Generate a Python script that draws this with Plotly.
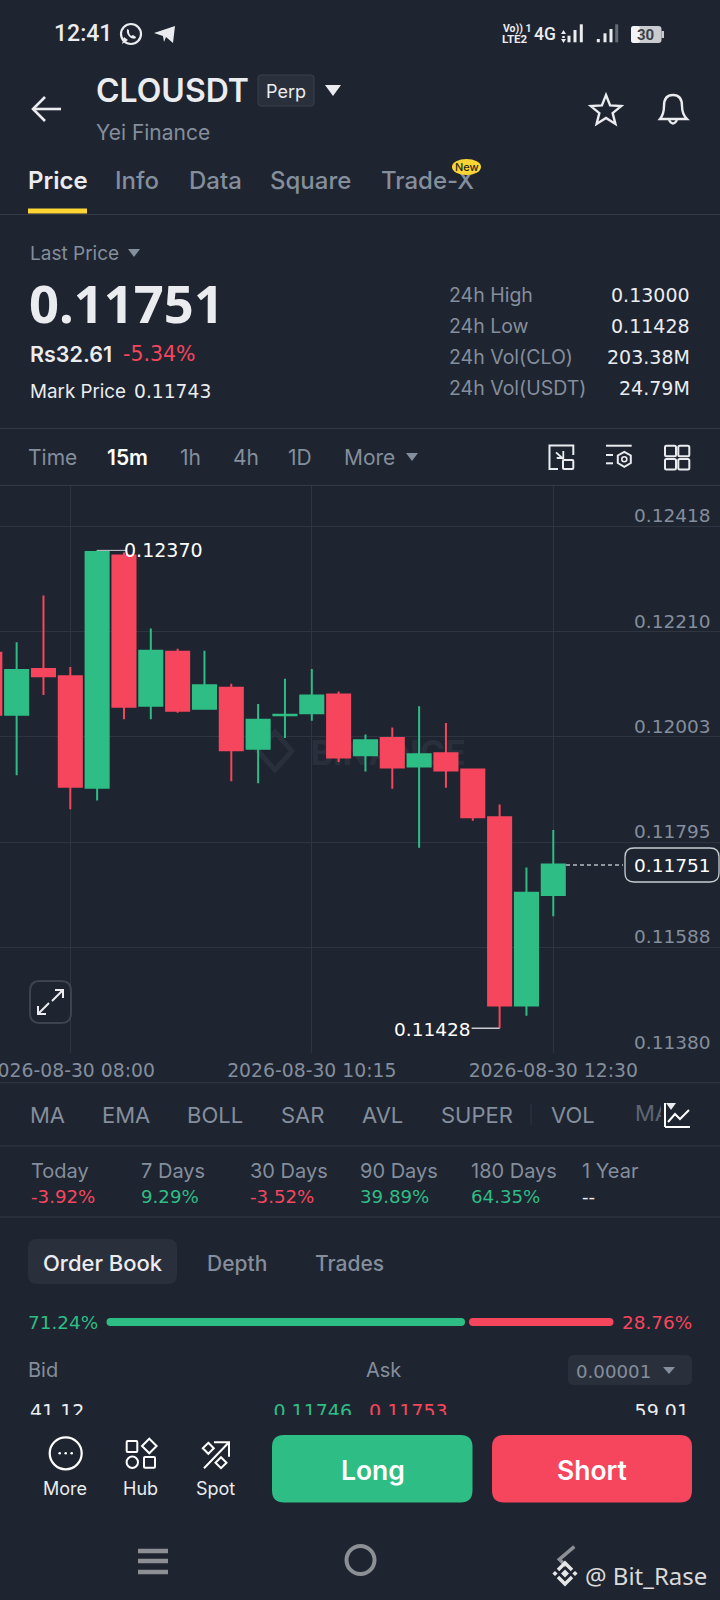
"""
CLOUSDT perp 15m candles, mobile trading screen
Whole screen is one figure: candles on the real axes, chrome on a pixel overlay axis
"""
import math
import plotly.graph_objects as go

# candles, 15 minute bars
times = ['2026-08-30 07:15', '2026-08-30 07:30', '2026-08-30 07:45', '2026-08-30 08:00',
         '2026-08-30 08:15', '2026-08-30 08:30', '2026-08-30 08:45', '2026-08-30 09:00',
         '2026-08-30 09:15', '2026-08-30 09:30', '2026-08-30 09:45', '2026-08-30 10:00',
         '2026-08-30 10:15', '2026-08-30 10:30', '2026-08-30 10:45', '2026-08-30 11:00',
         '2026-08-30 11:15', '2026-08-30 11:30', '2026-08-30 11:45', '2026-08-30 12:00',
         '2026-08-30 12:15', '2026-08-30 12:30']
opens = [0.12168, 0.12046, 0.12136, 0.12122, 0.11902, 0.12360, 0.12064, 0.12170, 0.12058, 0.12099, 0.11979,
         0.12045, 0.12049, 0.12086, 0.11966, 0.12000, 0.11944, 0.11970, 0.11938, 0.11844, 0.11473, 0.11691]
highs = [0.12180, 0.12189, 0.12281, 0.12140, 0.12370, 0.12366, 0.12216, 0.12176, 0.12172, 0.12107, 0.12067,
         0.12117, 0.12136, 0.12092, 0.12007, 0.12021, 0.12063, 0.12030, 0.11938, 0.11869, 0.11745, 0.11819]
lows = [0.12030, 0.11927, 0.12085, 0.11860, 0.11877, 0.12037, 0.12037, 0.12050, 0.12058, 0.11915, 0.11911,
        0.12000, 0.12034, 0.11953, 0.11934, 0.11900, 0.11784, 0.11902, 0.11837, 0.11428, 0.11453, 0.11649]
closes = [0.12046, 0.12134, 0.12122, 0.11904, 0.12367, 0.12062, 0.12172, 0.12054, 0.12104, 0.11976, 0.12036,
          0.12046, 0.12084, 0.11962, 0.11996, 0.11942, 0.11968, 0.11936, 0.11844, 0.11473, 0.11695, 0.11751]

price_ticks = [0.12418, 0.12210, 0.12003, 0.11795, 0.11588, 0.11380]
time_ticks = ['2026-08-30 08:00', '2026-08-30 10:15', '2026-08-30 12:30']

# header numbers
stat_names = ['24h High', '24h Low', '24h Vol(CLO)', '24h Vol(USDT)']
stat_values = ['0.13000', '0.11428', '203.38M', '24.79M']
period_names = ['Today', '7 Days', '30 Days', '90 Days', '180 Days', '1 Year']
period_values = ['-3.92%', '9.29%', '-3.52%', '39.89%', '64.35%', '--']
tab_names = ['Price', 'Info', 'Data', 'Square']
interval_names = ['Time', '15m', '1h', '4h', '1D', 'More']
indicator_names = ['MA', 'EMA', 'BOLL', 'SAR', 'AVL', 'SUPER', 'VOL']
bid_share = 71.24
ask_share = 28.76

BG = '#1E2430'
GRID = '#2E3540'
RULE = '#333A45'
PILL = '#2A303B'
GREY = '#848E9C'
LIGHT = '#EAECEF'
WHITE = '#FFFFFF'
GREEN = '#2EBD85'
RED = '#F6465D'
YELLOW = '#FCD535'
FONT = 'Inter'
NUM = 'DejaVu Sans'  # wide tabular digits, closest to the app's numbers

# price axis: 0.12418 sits at y=526 and 0.11380 at y=1052.7 of the 1600px page
CHART_TOP = 486
CHART_BOTTOM = 1052.7
PER_PX = (price_ticks[0] - price_ticks[-1]) / (CHART_BOTTOM - 526)
price_top = price_ticks[0] + (526 - CHART_TOP) * PER_PX

shapes = []
annotations = []


def seg(x0, y0, x1, y1, color=RULE, width=1, dash='solid'):
    shapes.append(dict(type='line', x0=x0, y0=y0, x1=x1, y1=y1, xref='x2', yref='y2', layer='above',
                       line=dict(color=color, width=width, dash=dash)))


def draw(d, fill='rgba(0,0,0,0)', color='rgba(0,0,0,0)', width=0):
    shapes.append(dict(type='path', path=d, xref='x2', yref='y2', layer='above', fillcolor=fill,
                       line=dict(color=color, width=width)))


def rbox(x0, y0, x1, y1, r, fill='rgba(0,0,0,0)', color='rgba(0,0,0,0)', width=0):
    d = (f'M{x0 + r},{y0} L{x1 - r},{y0} Q{x1},{y0} {x1},{y0 + r} L{x1},{y1 - r} Q{x1},{y1} {x1 - r},{y1} '
         f'L{x0 + r},{y1} Q{x0},{y1} {x0},{y1 - r} L{x0},{y0 + r} Q{x0},{y0} {x0 + r},{y0} Z')
    draw(d, fill, color, width)


def ring(cx, cy, rx, ry=None, fill='rgba(0,0,0,0)', color=WHITE, width=2):
    ry = ry or rx
    shapes.append(dict(type='circle', x0=cx - rx, x1=cx + rx, y0=cy - ry, y1=cy + ry, xref='x2', yref='y2',
                       layer='above', fillcolor=fill, line=dict(color=color, width=width)))


def tri(x0, x1, y0, y1, color=GREY):
    draw(f'M{x0},{y0} L{x1},{y0} L{(x0 + x1) / 2},{y1} Z', color)


def diamond(cx, cy, r, fill='rgba(0,0,0,0)', color=WHITE, width=2):
    draw(f'M{cx},{cy - r} L{cx + r},{cy} L{cx},{cy + r} L{cx - r},{cy} Z', fill, color, width)


def txt(x, y, s, size=19, color=GREY, anchor='left', weight=400, family=FONT):
    # annotations keep about 1px of padding round the text
    x = x - 1 if anchor == 'left' else x + 1 if anchor == 'right' else x
    annotations.append(dict(x=x, y=y, xref='x2', yref='y2', text=s, showarrow=False, xanchor=anchor,
                            yanchor='middle', borderpad=0, font=dict(size=size, color=color, family=family,
                                                                     weight=weight)))


# status bar
txt(54, 33, '12:41', 23, LIGHT, family='Roboto', weight=500)
ring(131, 34, 10, color=LIGHT, width=2.2)
draw('M122,44 L124,37 L128,40 Z', LIGHT)
draw('M127,29 Q126,35 131,38 Q136,40 136,37 L133,35 L131,36 Q129,34 129,32 L129,30 Z', LIGHT)
draw('M154,33 L175,26 L173,43 L166,37 L164,42 L163,36 Z', LIGHT)
txt(502.5, 28.5, 'Vo)) 1', 10.5, LIGHT, family='Roboto', weight=700)
txt(502, 39, 'LTE2', 11.5, LIGHT, family='Roboto', weight=700)
txt(534, 34, '4G', 17.5, LIGHT, family='Roboto', weight=500)
# signal bars, the first set has the up/down data arrows
tri(561, 566, 34, 30, LIGHT)
seg(563.5, 36, 563.5, 38, LIGHT, 2.5)
tri(561, 566, 39, 43, LIGHT)
for x, top in zip((569, 575, 581.3), (35.7, 30, 24.3)):
    seg(x, 42.3, x, top, LIGHT, 3)
for x, top, color in zip((598.3, 605, 611, 616.7), (39, 33.3, 29, 24.3), (LIGHT, LIGHT, LIGHT, '#666B73')):
    seg(x, 42.3, x, top, color, 3)
rbox(631, 26, 661.5, 43, 3, '#C9CBCE')
rbox(631, 26, 640, 43, 3, '#F2F3F4')
draw('M661.5,31 L664,31 L664,38 L661.5,38 Z', '#C9CBCE')
txt(645.5, 34.5, '30', 15, '#3A3F47', 'center', 700, 'Roboto')

# symbol header
seg(33, 109, 61, 109, LIGHT, 2.6)
draw('M45,97 L33,109 L45,121', color=LIGHT, width=2.6)
txt(96, 90, 'CLOUSDT', 32, LIGHT, weight=600)
rbox(258, 75, 314, 106, 3, PILL, '#3A414C', 1)
txt(286, 91, 'Perp', 18, LIGHT, 'center')
tri(325, 341, 85, 96, LIGHT)
txt(96, 132, 'Yei Finance', 21, GREY)
star = []
for i in range(10):
    r = 16 if i % 2 == 0 else 7
    star.append(f'{"M" if i == 0 else "L"}{606 + r * math.sin(i * math.pi / 5)},{111 - r * math.cos(i * math.pi / 5)}')
draw(' '.join(star) + ' Z', color=LIGHT, width=2.4)
draw('M660,119 Q664,114 664,106 Q664,95 673,95 Q682,95 682,106 Q682,114 687,119 Z', color=LIGHT, width=2.4)
draw('M669,120 Q673,127 677,120', color=LIGHT, width=2.4)

# tabs
for name, x, color, weight in zip(tab_names, (28, 115, 189, 270), (LIGHT, GREY, GREY, GREY), (600, 500, 500, 500)):
    txt(x, 180, name, 24, color, weight=weight)
seg(0, 214.5, 720, 214.5)
seg(28, 211, 87, 211, YELLOW, 5)
ring(466.5, 167, 14.5, 8, fill=YELLOW, color=YELLOW, width=0)
txt(466.5, 167, 'New', 11, '#2A2A1A', 'center', 500)

# price block
txt(30, 253, 'Last Price', 19, GREY)
tri(128, 140, 249, 257)
txt(29, 302, '0.11751', 52.5, LIGHT, weight=700, family='Noto Sans')
txt(30, 354, 'Rs32.61', 21.5, LIGHT, weight=600)
txt(123, 354, '-5.34%', 20.5, RED, family=NUM)
txt(30, 391, 'Mark Price', 18.8, LIGHT)
txt(134, 391, '0.11743', 18.7, LIGHT, family=NUM)
for name, value, y in zip(stat_names, stat_values, (295, 326, 357, 388)):
    txt(449, y, name, 19.5, GREY)
    txt(690, y, value, 19, LIGHT, 'right', family=NUM)
seg(0, 428.5, 720, 428.5)

# interval row
for name, x in zip(interval_names, (28, 107, 180, 233, 288, 344)):
    txt(x, 457, name, 21, WHITE if name == '15m' else GREY, weight=600 if name == '15m' else 400)
tri(406, 418, 453, 461)
draw('M573.3,455 L573.3,445.5 L549.5,445.5 L549.5,469 L558,469', color=LIGHT, width=2)
rbox(563, 460, 573.3, 469, 1, color=LIGHT, width=2)
draw('M556,452.3 L563.3,459 M556.7,458 L563.3,458 L563.3,451', color=LIGHT, width=1.8)
seg(606, 445.7, 631.7, 445.7, LIGHT, 2)
seg(606, 455, 613, 455, LIGHT, 2)
seg(606, 463.3, 613, 463.3, LIGHT, 2)
draw('M624.3,451.8 L630.8,455.5 L630.8,463 L624.3,466.8 L617.8,463 L617.8,455.5 Z', color=LIGHT, width=2)
ring(624.3, 459.3, 2.5, color=LIGHT, width=1.6)
for x0 in (665, 678.3):
    for y0 in (445.7, 459):
        rbox(x0, y0, x0 + 11, y0 + 10.5, 1.5, color=LIGHT, width=2)
seg(0, 485.5, 720, 485.5)
seg(0, 1082.7, 720, 1082.7)

# last price tag and expand button
seg(566, 865, 623, 865, '#B7BBC2', 1.5, '4px,3px')
rbox(625, 848, 719, 882, 9, BG, '#C9CDD2', 1.3)
txt(672, 865, f'{closes[-1]:.5f}', 18.5, WHITE, 'center', family=NUM)
rbox(30, 981, 71, 1023, 10, color='#3D444F', width=2)
draw('M38,1014 L49,1003 M38,1006 L38,1014 L46,1014', color=LIGHT, width=2)
draw('M63,990 L52,1001 M55,990 L63,990 L63,998', color=LIGHT, width=2)

# indicators
for name, x in zip(indicator_names, (30, 102, 187, 281, 362, 441, 551)):
    txt(x, 1115, name, 22, GREY)
seg(531, 1104, 531, 1125, '#2E3540', 1)
seg(665, 1103, 665, 1127, WHITE, 2)
seg(665, 1127, 690, 1127, WHITE, 2)
draw('M668,1122 L675,1114 L680,1119 L689,1110', color=WHITE, width=2)
draw('M666,1103 L676,1103 L671,1110 Z', LIGHT)
seg(0, 1146, 720, 1146)

# period returns
for name, value, x in zip(period_names, period_values, (31, 140.5, 250, 360, 471, 582)):
    txt(x, 1171, name, 20, GREY)
    color = LIGHT if value == '--' else RED if value.startswith('-') else GREEN
    txt(x, 1196, value, 18.2, color, family=NUM)
seg(0, 1217, 720, 1217)

# order book header
rbox(28, 1239, 177, 1284, 9, PILL)
txt(102.5, 1263, 'Order Book', 22, LIGHT, 'center', 500)
txt(207, 1263, 'Depth', 21, GREY, weight=500)
txt(314.5, 1263, 'Trades', 21, GREY, weight=500)
txt(28, 1322, f'{bid_share:.2f}%', 18.4, GREEN, family=NUM)
txt(692, 1322, f'{ask_share:.2f}%', 18.4, RED, 'right', family=NUM)
rbox(106.5, 1318, 465, 1326, 4, GREEN)
rbox(469, 1318, 613.5, 1326, 4, RED)
txt(28, 1370, 'Bid', 20, GREY)
txt(366, 1370, 'Ask', 20, GREY)
rbox(568, 1355, 692, 1385, 6, PILL)
txt(576, 1371, '0.00001', 18.2, GREY, family=NUM)
tri(663, 675, 1367, 1374)

# bottom action bar
ring(65.7, 1453.3, 16, color=WHITE, width=2.2)
for dx in (-6, 0, 6):
    ring(65.7 + dx, 1453.3, 1.3, fill=WHITE, color=WHITE, width=0)
txt(65, 1488, 'More', 18, LIGHT, 'center')
rbox(126.7, 1441, 137.3, 1452, 1, color=WHITE, width=2)
diamond(149.3, 1446, 7.3, width=2)
ring(132.3, 1462.3, 5.7, width=2)
rbox(144, 1457, 155, 1467.7, 1, color=WHITE, width=2)
txt(140, 1488, 'Hub', 18, LIGHT, 'center')
diamond(208.3, 1448.3, 5.5, width=2)
diamond(221, 1462.7, 5.5, width=2)
draw('M204,1468.3 L229,1442.3 M214,1442.3 L229,1442.3 L229,1456.7', color=WHITE, width=2)
txt(215, 1488, 'Spot', 18, LIGHT, 'center')
rbox(272, 1435, 472.5, 1502.5, 12, GREEN)
txt(373, 1470, 'Long', 26.5, WHITE, 'center', 600)
rbox(492, 1435, 692, 1502.5, 12, RED)
txt(591.5, 1470, 'Short', 26.5, WHITE, 'center', 600)

# android nav bar
for y in (1551, 1561, 1572):
    seg(138, y, 168, y, '#8C8F94', 4.5)
ring(360.5, 1560, 14, 14, color='#8C8F94', width=4)
draw('M574.3,1546.7 L559.3,1559.3 L566,1566', color='#8C8F94', width=3.5)
# exchange logo in front of the nav chevron
LOGO = '#E6E6E6'
draw('M558,1570 L565,1563 L572,1570', color=LOGO, width=3.5)
draw('M558,1577 L565,1584 L572,1577', color=LOGO, width=3.5)
diamond(565, 1573.5, 4, LOGO, LOGO, 0)
diamond(555, 1573.5, 2.6, LOGO, LOGO, 0)
diamond(575, 1573.5, 2.6, LOGO, LOGO, 0)
txt(585, 1575, '@ Bit_Rase', 24, '#D9D9D9', family='Noto Sans')

# watermark goes under the candles, so it lives in the lower shape layer on paper coords
shapes.append(dict(type='rect', x0=302 / 720, x1=474 / 720, y0=1 - 772 / 1600, y1=1 - 730 / 1600, xref='paper',
                   yref='paper', layer='below', line=dict(width=0),
                   label=dict(text='BINANCE', textposition='middle center',
                              font=dict(size=34, color='#2A303B', family=FONT, weight=700))))
shapes.append(dict(type='path', xref='paper', yref='paper', layer='below', fillcolor='rgba(0,0,0,0)',
                   line=dict(color='#2A303B', width=5),
                   path=f'M{275 / 720},{1 - 732 / 1600} L{292 / 720},{1 - 751 / 1600} L{275 / 720},{1 - 770 / 1600} '
                        f'L{258 / 720},{1 - 751 / 1600} Z'))

fig = go.Figure()

# Trade-X has the badge on top of it, so it is a text trace and not an annotation
fig.add_trace(go.Scatter(x=[381], y=[183], xaxis='x2', yaxis='y2', mode='text', text=['Trade-X'],
                         textposition='middle right', cliponaxis=False, hoverinfo='skip',
                         textfont=dict(size=24, color=GREY, family=FONT, weight=500)))

fig.add_trace(go.Candlestick(
    x=times, open=opens, high=highs, low=lows, close=closes,
    whiskerwidth=0, hoverinfo='skip',
    increasing=dict(line=dict(color=GREEN, width=2), fillcolor=GREEN),
    decreasing=dict(line=dict(color=RED, width=2), fillcolor=RED),
))

# first order book row, cut off by the action bar
fig.add_trace(go.Scatter(x=[30, 369], y=[1413, 1413], xaxis='x3', yaxis='y3', mode='text',
                         text=['41.12', '0.11753'], textposition='middle right', hoverinfo='skip',
                         textfont=dict(size=19, color=[LIGHT, RED], family=NUM)))
fig.add_trace(go.Scatter(x=[352, 689], y=[1413, 1413], xaxis='x3', yaxis='y3', mode='text',
                         text=['0.11746', '59.01'], textposition='middle left', hoverinfo='skip',
                         textfont=dict(size=19, color=[GREEN, LIGHT], family=NUM)))
# last indicator, cut off by the icon
fig.add_trace(go.Scatter(x=[635], y=[1115], xaxis='x4', yaxis='y4', mode='text', text=['MA'],
                         textposition='middle right', hoverinfo='skip',
                         textfont=dict(size=22, color='#5E6673', family=FONT)))

# high / low callouts come from the series
hi = max(highs)
lo = min(lows)
hi_at = times[highs.index(hi)]
lo_at = times[lows.index(lo)]
shapes.append(dict(type='line', x0=0, x1=29, y0=hi, y1=hi, xsizemode='pixel', xanchor=hi_at, xref='x', yref='y',
                   layer='above', line=dict(color='#C9CDD2', width=1)))
shapes.append(dict(type='line', x0=-28, x1=0, y0=lo, y1=lo, xsizemode='pixel', xanchor=lo_at, xref='x', yref='y',
                   layer='above', line=dict(color='#C9CDD2', width=1.5)))
annotations.append(dict(x=hi_at, y=hi, xref='x', yref='y', text=f'{hi:.5f}', showarrow=False, xanchor='left',
                        xshift=25, font=dict(size=19, color=WHITE, family=NUM)))
annotations.append(dict(x=lo_at, y=lo, xref='x', yref='y', text=f'{lo:.5f}', showarrow=False, xanchor='right',
                        xshift=-27, yshift=-1, font=dict(size=18.5, color=WHITE, family=NUM)))
# price labels sit on top of their grid lines, at the right edge
for v in price_ticks:
    annotations.append(dict(x=713, y=v, xref='x2', yref='y', text=f'{v:.5f}', showarrow=False, xanchor='right',
                            yanchor='bottom', yshift=-2, font=dict(size=18.5, color=GREY, family=NUM)))

page_axis = dict(visible=False, fixedrange=True)
fig.update_layout(
    width=720,
    height=1600,
    margin=dict(l=0, r=0, t=0, b=0, autoexpand=False),
    paper_bgcolor=BG,
    plot_bgcolor='rgba(0,0,0,0)',  # overlapping subplots would paint over each other otherwise
    showlegend=False,
    boxgap=0.14,
    boxgroupgap=0,
    shapes=shapes,
    annotations=annotations,
    xaxis=dict(
        type='date', domain=[0, 1], anchor='y', range=['2026-08-30 07:20:42', '2026-08-30 14:03:12'],
        rangeslider=dict(visible=False), tickmode='array', tickvals=time_ticks, ticktext=time_ticks, tickangle=0,
        ticks='', showgrid=True, gridcolor=GRID, gridwidth=1, zeroline=False, showline=False,
        ticklabeloverflow='allow', ticklabelstandoff=4, tickfont=dict(size=18.8, color=GREY, family=NUM),
    ),
    yaxis=dict(
        domain=[1 - CHART_BOTTOM / 1600, 1 - CHART_TOP / 1600], anchor='x', side='right',
        range=[price_ticks[-1], price_top], tickmode='array', tickvals=price_ticks,
        showticklabels=False, ticks='', showgrid=True, gridcolor=GRID, gridwidth=1,
        zeroline=False, showline=False,
    ),
    # pixel overlay for the screen chrome
    xaxis2=dict(page_axis, domain=[0, 1], range=[0, 720], anchor='y2'),
    yaxis2=dict(page_axis, domain=[0, 1], range=[1600, 0], anchor='x2'),
    xaxis3=dict(page_axis, domain=[0, 1], range=[0, 720], anchor='y3'),
    yaxis3=dict(page_axis, domain=[1 - 1415 / 1600, 1 - 1395 / 1600], range=[1415, 1395], anchor='x3'),
    xaxis4=dict(page_axis, domain=[630 / 720, 661 / 720], range=[630, 661], anchor='y4'),
    yaxis4=dict(page_axis, domain=[1 - 1130 / 1600, 1 - 1100 / 1600], range=[1130, 1100], anchor='x4'),
)

fig.write_html("out.html", config={'displayModeBar': False},
               post_script="document.body.style.margin='0';document.body.style.overflow='hidden';")
